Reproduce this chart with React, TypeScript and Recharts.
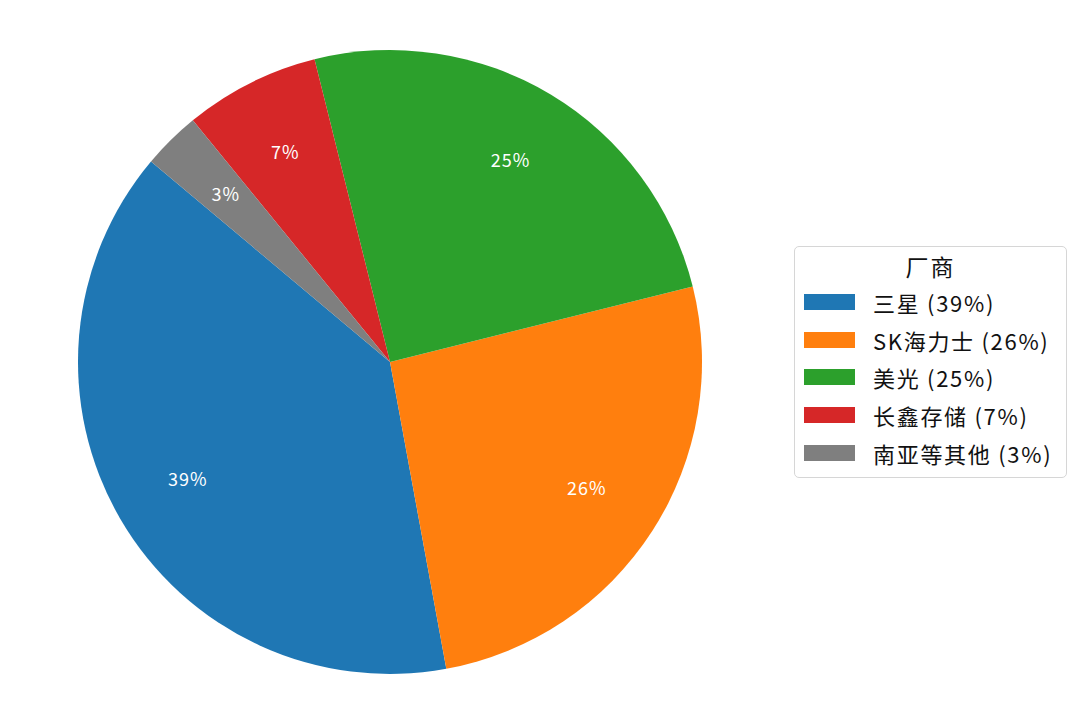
import { PieChart, Pie, Cell, Legend } from 'recharts';

const vendors = ['三星', 'SK海力士', '美光', '长鑫存储', '南亚等其他'];
const shares = [39, 26, 25, 7, 3];
const colors = ['#1f77b4', '#ff7f0e', '#2ca02c', '#d62728', '#7f7f7f'];
const legendTitle = '厂商';

const data = vendors.map((name, i) => ({ name, value: shares[i], color: colors[i] }));

const FONT = '"Noto Sans CJK SC", "Noto Sans", sans-serif';
const RAD = Math.PI / 180;

const renderPct = (props: any) => {
  const { cx, cy, midAngle, outerRadius, value } = props;
  const r = outerRadius * 0.75;
  const x = cx + r * Math.cos(-midAngle * RAD);
  const y = cy + r * Math.sin(-midAngle * RAD) - 2;
  return (
    <text
      x={x}
      y={y}
      fill="#ffffff"
      fontSize={18}
      letterSpacing={1}
      fontFamily={FONT}
      textAnchor="middle"
      dominantBaseline="central"
    >
      {`${value}%`}
    </text>
  );
};

const renderLegend = () => (
  <div
    style={{
      width: 273,
      height: 232,
      border: '1.5px solid #d6d6d6',
      borderRadius: 5,
      background: '#fff',
      fontFamily: FONT,
      boxSizing: 'border-box',
      color: '#111',
    }}
  >
    <div style={{ textAlign: 'center', fontSize: 23, letterSpacing: 2, lineHeight: '26px', paddingTop: 6 }}>
      {legendTitle}
    </div>
    <div style={{ marginTop: 4 }}>
      {data.map((d) => (
        <div key={d.name} style={{ display: 'flex', alignItems: 'center', height: 37.7 }}>
          <span
            style={{
              display: 'inline-block',
              width: 51,
              height: 16,
              marginLeft: 9,
              marginRight: 18,
              background: d.color,
            }}
          />
          <span style={{ fontSize: 22, letterSpacing: 1.7 }}>{`${d.name} (${d.value}%)`}</span>
        </div>
      ))}
    </div>
  </div>
);

export default function App() {
  return (
    <div style={{ position: 'fixed', left: 0, top: 0, width: 1080, height: 721, background: '#fff' }}>
      <PieChart width={1080} height={721} margin={{ top: 0, right: 0, bottom: 0, left: 0 }}>
        <Pie
          data={data}
          dataKey="value"
          nameKey="name"
          cx={390}
          cy={362}
          outerRadius={312}
          startAngle={140}
          endAngle={500}
          stroke="none"
          label={renderPct}
          labelLine={false}
          isAnimationActive={false}
        >
          {data.map((d, i) => (
            <Cell key={`cell-${i}`} fill={d.color} />
          ))}
        </Pie>
        <Legend
          content={renderLegend}
          wrapperStyle={{ left: 794, top: 246, width: 273, height: 232 }}
        />
      </PieChart>
    </div>
  );
}
